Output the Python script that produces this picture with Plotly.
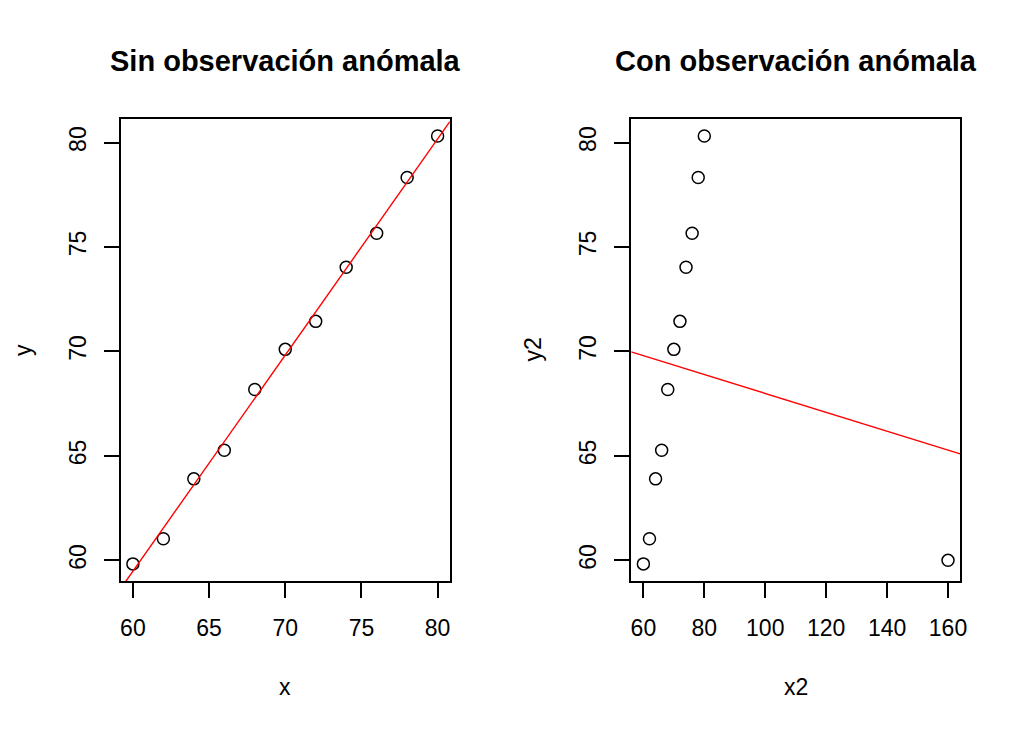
import numpy as np
import plotly.graph_objects as go
from plotly.subplots import make_subplots

# datos
x = [60, 62, 64, 66, 68, 70, 72, 74, 76, 78, 80]
y = [59.83, 61.03, 63.90, 65.27, 68.18, 70.10, 71.44, 74.03, 75.66, 78.33, 80.31]
x2 = x + [160]
y2 = y + [60.0]

titles = ["Sin observación anómala", "Con observación anómala"]
x_ticks_1 = [60, 65, 70, 75, 80]
x_ticks_2 = [60, 80, 100, 120, 140, 160]
y_ticks = [60, 65, 70, 75, 80]

font = "Liberation Sans, Arial, sans-serif"


def r_range(v):  # rango como R: 4% extra a cada lado
    lo, hi = min(v), max(v)
    d = (hi - lo) * 0.04
    return [lo - d, hi + d]


fig = make_subplots(rows=1, cols=2)

panels = [(x, y, 1), (x2, y2, 2)]
for xs, ys, col in panels:
    fig.add_trace(go.Scatter(x=xs, y=ys, mode="markers",
                             marker=dict(symbol="circle-open", size=12, color="black",
                                         line=dict(width=1.5, color="black")),
                             showlegend=False), row=1, col=col)
    b, a = np.polyfit(xs, ys, 1)  # recta de regresión (abline)
    xr = r_range(xs)
    fig.add_trace(go.Scatter(x=xr, y=[a + b * v for v in xr], mode="lines",
                             line=dict(color="red", width=1.4), showlegend=False),
                  row=1, col=col)

axis_common = dict(showline=True, mirror=True, linecolor="black", linewidth=1.5,
                   ticks="outside", ticklen=15, tickwidth=1.5, tickcolor="black",
                   showgrid=False, zeroline=False,
                   tickfont=dict(family=font, size=23, color="black"))

# la página tiene 8px de margen, así que la figura ocupa 1008x715
fig.update_xaxes(range=r_range(x), tickvals=x_ticks_1, domain=[0.1117, 0.4408],
                 ticklabelstandoff=11, row=1, col=1, **axis_common)
fig.update_xaxes(range=r_range(x2), tickvals=x_ticks_2, domain=[0.6222, 0.9512],
                 ticklabelstandoff=11, row=1, col=2, **axis_common)
for col in (1, 2):
    fig.update_yaxes(range=r_range(y), tickvals=y_ticks, domain=[0.1986, 0.8448],
                     tickangle=-90, ticklabelstandoff=9, row=1, col=col, **axis_common)

ann = []
for cx, t in zip([0.2762, 0.7867], titles):
    ann.append(dict(text="<b>%s</b>" % t, x=cx, y=0.9259, xref="paper", yref="paper",
                    xanchor="center", yanchor="middle", showarrow=False,
                    font=dict(family=font, size=29, color="black")))
for cx, t in zip([0.2762, 0.7867], ["x", "x2"]):
    ann.append(dict(text=t, x=cx, y=0.0503, xref="paper", yref="paper",
                    xanchor="center", yanchor="middle", showarrow=False,
                    font=dict(family=font, size=23, color="black")))
for cx, t in zip([0.0140, 0.5235], ["y", "y2"]):
    ann.append(dict(text=t, x=cx, y=0.5217, xref="paper", yref="paper", textangle=-90,
                    xanchor="center", yanchor="middle", showarrow=False,
                    font=dict(family=font, size=23, color="black")))

fig.update_layout(width=1008, height=715, margin=dict(l=0, r=0, t=0, b=0),
                  plot_bgcolor="white", paper_bgcolor="white", annotations=ann)

fig.write_html("out.html")
